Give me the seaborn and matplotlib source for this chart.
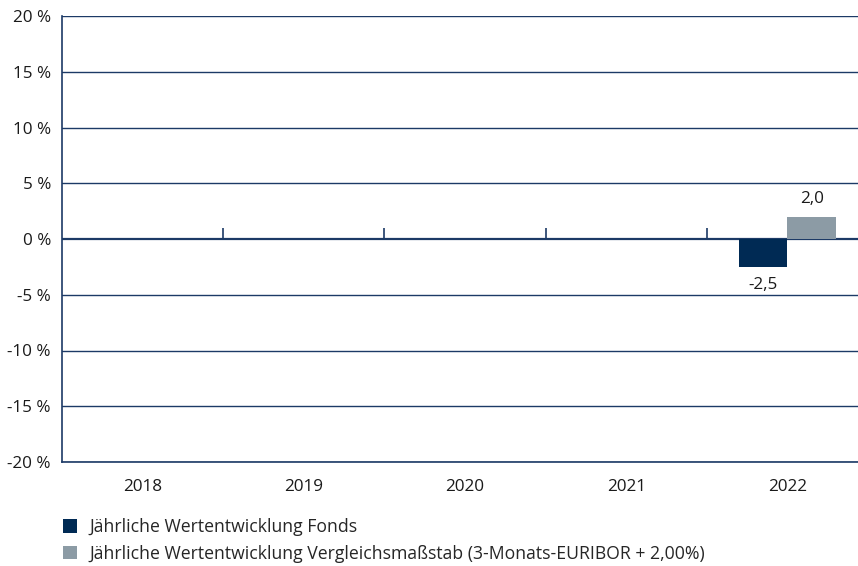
import pandas as pd
import numpy as np
import matplotlib
matplotlib.use("Agg")
import matplotlib.pyplot as plt
import seaborn as sns
from matplotlib.patches import Patch

# data
years = ["2018", "2019", "2020", "2021", "2022"]
fonds = [np.nan, np.nan, np.nan, np.nan, -2.5]
benchmark = [np.nan, np.nan, np.nan, np.nan, 2.0]
series_names = ["Jährliche Wertentwicklung Fonds",
                "Jährliche Wertentwicklung Vergleichsmaßstab (3-Monats-EURIBOR + 2,00%)"]
colors = ["#002a54", "#8c9ba5"]
yticks = [-20, -15, -10, -5, 0, 5, 10, 15, 20]

navy = "#1c3a66"
fs = 12.3

sns.set_theme(style="white")
plt.rcParams['font.family'] = ['Open Sans', 'DejaVu Sans']

df = pd.DataFrame({"Jahr": years * 2,
                   "Wert": fonds + benchmark,
                   "Serie": [series_names[0]] * 5 + [series_names[1]] * 5})
df = df.dropna()

fig = plt.figure(figsize=(8.58, 5.66), dpi=100)
ax = fig.add_axes([62 / 858, 1 - 462 / 566, 806 / 858, 446 / 566])

sns.barplot(data=df, x="Jahr", y="Wert", hue="Serie", order=years,
            hue_order=series_names, palette=colors, width=0.6, saturation=1,
            linewidth=0, legend=False, ax=ax, errorbar=None)

ax.set_xlim(-0.5, len(years) - 0.5)
ax.set_ylim(-20, 20)
ax.set_yticks(yticks)
ax.set_yticklabels([f"{v} %" for v in yticks], fontsize=fs, color="#1a1a1a")
for v in yticks:
    ax.axhline(v, color=navy, lw=1.0 if v != 0 else 1.6, zorder=0.5)

# small separators on the zero line
ax.vlines([i + 0.5 for i in range(len(years) - 1)], 0, 1.0, color=navy, lw=1.2)

ax.tick_params(axis="x", length=0, pad=12, labelsize=fs, labelcolor="#1a1a1a")
ax.tick_params(axis="y", length=0, pad=8)
ax.set_xlabel("")
ax.set_ylabel("")
for s in ["top", "right"]:
    ax.spines[s].set_visible(False)
for s in ["left", "bottom"]:
    ax.spines[s].set_color(navy)
    ax.spines[s].set_linewidth(1.2)

# value labels
for i, yr in enumerate(years):
    for j, vals in enumerate([fonds, benchmark]):
        v = vals[i]
        if np.isnan(v):
            continue
        xpos = i + (-0.15 if j == 0 else 0.15)
        off = 0.9 if v >= 0 else -0.9
        ax.text(xpos, v + off, f"{v:.1f}".replace(".", ","), ha="center",
                va="bottom" if v >= 0 else "top", fontsize=fs, color="#1a1a1a")

handles = [Patch(facecolor=c, edgecolor="none") for c in colors]
fig.legend(handles, series_names, loc="upper left", bbox_to_anchor=(56 / 858, 1 - 511 / 566),
           frameon=False, fontsize=12.7, handlelength=0.78, handleheight=0.78,
           handletextpad=0.7, labelspacing=0.5, borderaxespad=0)

fig.savefig("out.png", dpi=100)
